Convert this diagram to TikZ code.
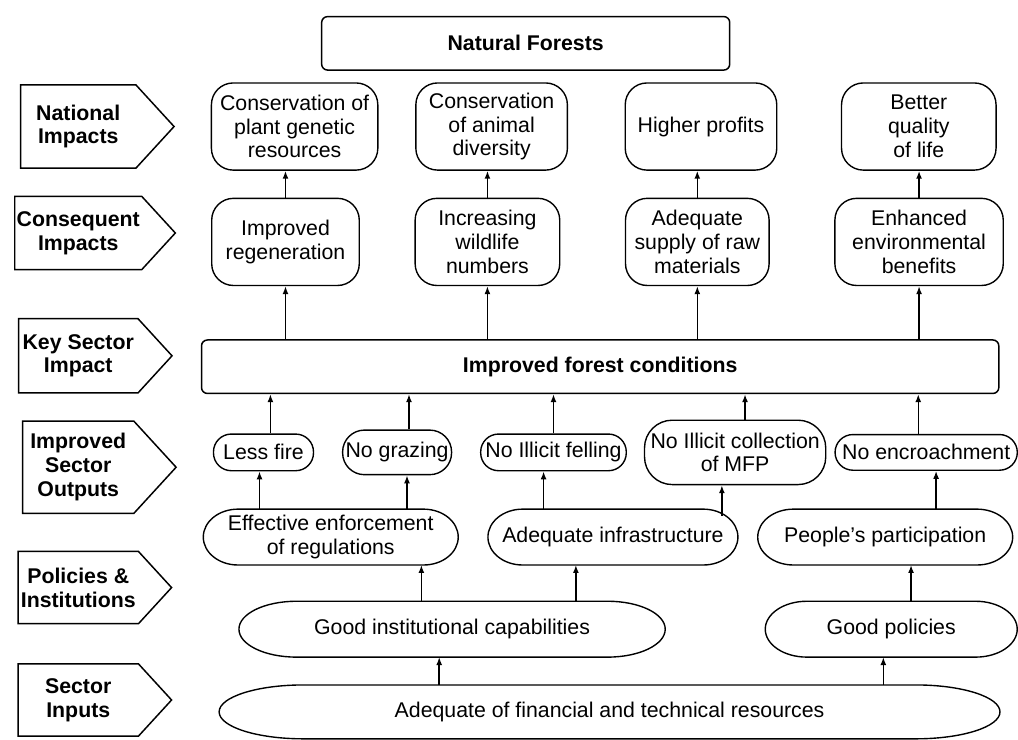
\documentclass[tikz,border=0pt]{standalone}
\usepackage{fontspec}
\setmainfont{Liberation Sans}
\usetikzlibrary{positioning,arrows.meta,shapes.symbols,calc}

% frame with half-elliptic ends round a node
\newcommand{\ovalframe}[2]{%
  \draw[line width=1.4pt] let \p1=(#1.north west), \p2=(#1.south east), \n1={(\y1-\y2)/2} in
    (\x1+#2,\y1) -- (\x2-#2,\y1) arc[start angle=90,end angle=-90,x radius=#2,y radius=\n1]
    -- (\x1+#2,\y2) arc[start angle=270,end angle=90,x radius=#2,y radius=\n1] -- cycle;}

\begin{document}
\begin{tikzpicture}[
  x=1pt,y=1pt,
  font=\fontsize{21.5}{24}\selectfont,
  lbl/.style={signal,signal to=east,signal pointer angle=95,draw,line width=1.5pt,minimum width=155pt,inner sep=2pt,align=center,font=\fontsize{21.5}{24}\selectfont\bfseries},
  head/.style={draw,line width=1.5pt,rounded corners=6pt,minimum height=54pt,align=center,font=\fontsize{21.5}{24}\selectfont\bfseries},
  impact/.style={draw,line width=1.4pt,rounded corners=22pt,minimum height=88pt,inner xsep=2pt,align=center},
  output/.style={draw,line width=1.4pt,rounded corners=18pt,minimum height=37pt,inner xsep=2pt,align=center},
  oval/.style={minimum height=56pt,inner xsep=2pt,align=center},
  arr/.style={-{Latex[length=8pt,width=6pt]},line width=1.5pt}
]
% level labels
\node[lbl,minimum height=84pt] (ni) {National\\Impacts};
\node[lbl,minimum height=74pt,below=27pt of ni] (ci) {Consequent\\Impacts};
\node[lbl,minimum height=75pt,below=48pt of ci] (ks) {Key Sector\\Impact};
\node[lbl,minimum height=93pt,below=27pt of ks] (so) {Improved\\Sector\\Outputs};
\node[lbl,minimum height=73pt,below=37pt of so] (pi) {Policies \&\\Institutions};
\node[lbl,minimum height=73pt,below=39pt of pi] (si) {Sector\\Inputs};

\node[head,minimum width=412pt] (nf) at ($(ni.east)+(354,84)$) {Natural Forests};

% national impacts
\node[impact,minimum width=168pt,right=36pt of ni] (pg) {Conservation of\\plant genetic\\resources};
\node[impact,minimum width=153pt,right=37pt of pg] (ad) {Conservation\\of animal\\diversity};
\node[impact,minimum width=153pt,right=57pt of ad] (hp) {Higher profits};
\node[impact,minimum width=156pt,right=64pt of hp] (ql) {Better\\quality\\of life};

% consequent impacts
\node[impact,minimum width=149pt,right=35pt of ci,yshift=-9pt] (rg) {Improved\\regeneration};
\node[impact,minimum width=146pt,right=55pt of rg] (wl) {Increasing\\wildlife\\numbers};
\node[impact,minimum width=145pt,right=65pt of wl] (rm) {Adequate\\supply of raw\\materials};
\node[impact,minimum width=170pt,right=65pt of rm] (eb) {Enhanced\\environmental\\benefits};

% key sector impact
\node[head,minimum width=805pt,right=28pt of ks,yshift=-11pt] (fc) {Improved forest conditions};

% sector outputs
\node[output,minimum width=101pt,right=36pt of so,yshift=15pt] (lf) {Less fire};
\node[output,minimum width=110pt,minimum height=45pt,rounded corners=22pt,right=28pt of lf] (ng) {No grazing};
\node[output,minimum width=147pt,right=28pt of ng] (fl) {No Illicit felling};
\node[output,minimum width=183pt,minimum height=65pt,rounded corners=28pt,right=17pt of fl] (mf) {No Illicit collection\\of MFP};
\node[output,minimum width=184pt,minimum height=36pt,right=8pt of mf] (ne) {No encroachment};

% policies and institutions
\node[oval,minimum width=257pt,right=31pt of pi,yshift=51pt] (ee) {Effective enforcement\\of regulations};
\node[oval,minimum width=252pt,right=30pt of ee] (ai) {Adequate infrastructure};
\node[oval,minimum width=257pt,right=20pt of ai] (pp) {People's participation};
\node[oval,minimum width=430pt,right=67pt of pi,yshift=-42pt] (gi) {Good institutional capabilities};
\node[oval,minimum width=254pt,right=101pt of gi] (gp) {Good policies};

% sector inputs
\node[oval,minimum width=788pt,minimum height=54pt,right=47pt of si,yshift=-12pt] (fr) {Adequate of financial and technical resources};

\ovalframe{ee}{35pt}
\ovalframe{ai}{35pt}
\ovalframe{pp}{36pt}
\ovalframe{gi}{58pt}
\ovalframe{gp}{42pt}
\ovalframe{fr}{85pt}

% links
\foreach \a/\b in {rg/pg,wl/ad,rm/hp,eb/ql}
  \draw[arr] (\a.north) -- (\a.north |- \b.south);
\foreach \a in {rg,wl,rm,eb}
  \draw[arr] (fc.north -| \a) -- (\a.south);
\foreach \a/\s in {lf/7,ng/12,fl/0,mf/10,ne/-8}
  \draw[arr] ([xshift=\s pt]\a.north) -- ([xshift=\s pt]\a.north |- fc.south);
\draw[arr] ([xshift=-4pt]lf.south |- ee.north) -- ([xshift=-4pt]lf.south);
\draw[arr] ([xshift=10pt]ng.south |- ee.north) -- ([xshift=10pt]ng.south);
\draw[arr] ([xshift=-10pt]fl.south |- ai.north) -- ([xshift=-10pt]fl.south);
\draw[arr] ([xshift=110pt,yshift=-7pt]ai.north) -- ([xshift=110pt]ai.north |- mf.south);
\draw[arr] ([xshift=10pt]ne.south |- pp.north) -- ([xshift=10pt]ne.south);
\draw[arr] ([xshift=-31pt]gi.north) -- ([xshift=-31pt]gi.north |- ee.south);
\draw[arr] ([xshift=125pt]gi.north) -- ([xshift=125pt]gi.north |- ai.south);
\draw[arr] ([xshift=20pt]gp.north) -- ([xshift=20pt]gp.north |- pp.south);
\draw[arr] ([xshift=-13pt]gi.south |- fr.north) -- ([xshift=-13pt]gi.south);
\draw[arr] ([xshift=-8pt]gp.south |- fr.north) -- ([xshift=-8pt]gp.south);

\useasboundingbox ($(ni.west |- nf.north)+(-20,16)$) rectangle ($(fc.east |- fr.south)+(15,-1)$);
\end{tikzpicture}
\end{document}
